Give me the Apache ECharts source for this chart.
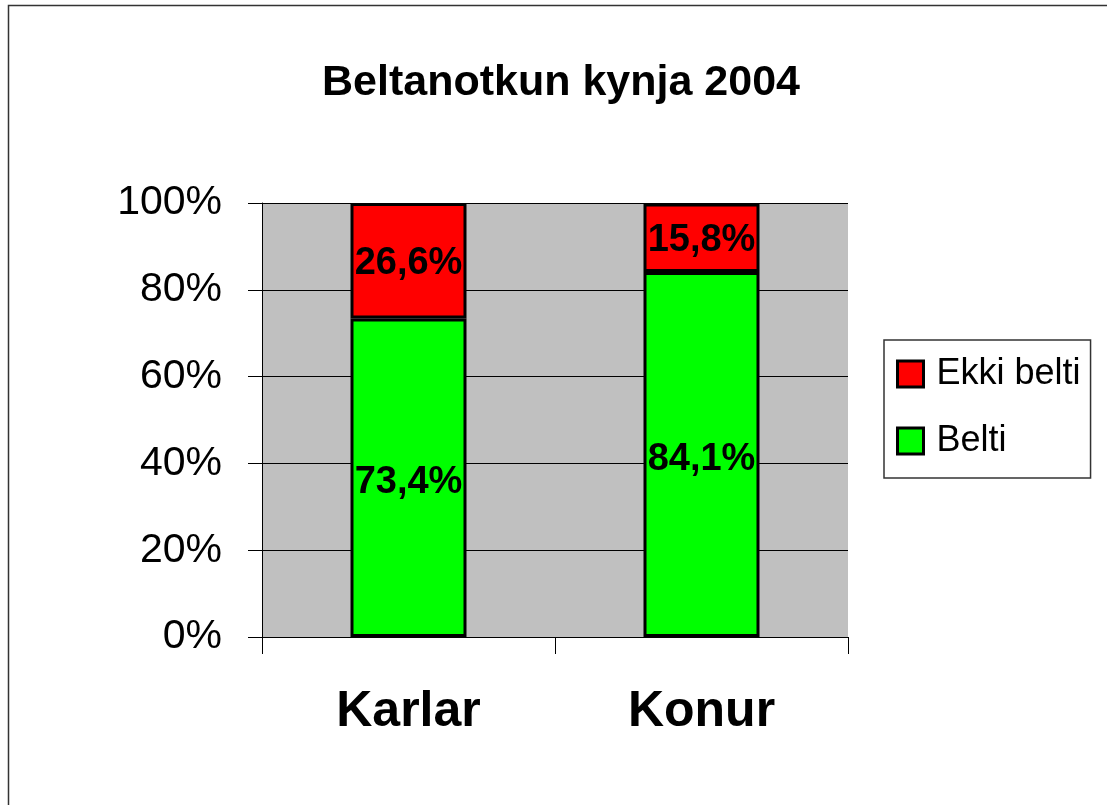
<!DOCTYPE html>
<html>
<head>
<meta charset="utf-8">
<script src="https://cdn.jsdelivr.net/npm/echarts@6/dist/echarts.min.js"></script>
<style>
  html, body { margin: 0; padding: 0; background: #fff; }
  #chart { width: 1107px; height: 805px; }
</style>
</head>
<body>
<div id="chart"></div>
<script>
// data
const categories = ['Karlar', 'Konur'];
const belti = [73.4, 84.1];
const ekkiBelti = [26.6, 15.8];
const legendOrder = ['Ekki belti', 'Belti'];

const font = 'Arial, "Liberation Sans", sans-serif';
const fmt = p => String(p.value.toFixed(1)).replace('.', ',') + '%';

const chart = echarts.init(document.getElementById('chart'));
chart.setOption({
  backgroundColor: '#fff',
  animation: false,
  textStyle: { fontFamily: font, color: '#000' },
  graphic: [{
    // chart area frame, only top and left edges show
    type: 'rect',
    shape: { x: 8.5, y: 5.5, width: 1300, height: 1000 },
    style: { fill: 'none', stroke: '#333', lineWidth: 1.5 },
    silent: true
  }],
  title: {
    text: 'Beltanotkun kynja 2004',
    left: 317,
    top: 57,
    textStyle: { fontSize: 43, fontWeight: 'bold', color: '#000', fontFamily: font }
  },
  legend: {
    data: legendOrder,
    orient: 'vertical',
    left: 884,
    top: 340,
    padding: [16, 10, 19, 12],
    itemWidth: 26,
    itemHeight: 26,
    itemGap: 31,
    icon: 'rect',
    itemStyle: { borderColor: '#000', borderWidth: 3 },
    borderColor: '#333',
    borderWidth: 1.5,
    backgroundColor: '#fff',
    textStyle: { fontSize: 36, lineHeight: 36, color: '#000', fontFamily: font, padding: [0, 0, 0, 8] }
  },
  grid: {
    left: 262,
    right: 259,
    top: 203,
    bottom: 168,
    show: true,
    backgroundColor: '#C0C0C0',
    borderWidth: 0
  },
  xAxis: {
    type: 'category',
    data: categories,
    axisLine: { lineStyle: { color: '#000', width: 1 } },
    axisTick: { show: true, length: 17, lineStyle: { color: '#000' } },
    axisLabel: { fontSize: 50, fontWeight: 'bold', color: '#000', margin: 50, fontFamily: font }
  },
  yAxis: {
    type: 'value',
    min: 0,
    max: 100,
    interval: 20,
    axisLine: { show: true, lineStyle: { color: '#000', width: 1 } },
    axisTick: { show: true, length: 14, lineStyle: { color: '#000' } },
    axisLabel: { formatter: '{value}%', fontSize: 41, color: '#000', margin: 40, fontFamily: font },
    splitLine: { show: true, lineStyle: { color: '#000', width: 1 } }
  },
  series: [{
    name: 'Belti',
    type: 'bar',
    stack: 'total',
    barWidth: 116,
    data: belti,
    itemStyle: { color: '#00FF00', borderColor: '#000', borderWidth: 3 },
    label: { show: true, position: 'inside', offset: [0, 5], formatter: fmt, fontSize: 38, fontWeight: 'bold', color: '#000', fontFamily: font }
  }, {
    name: 'Ekki belti',
    type: 'bar',
    stack: 'total',
    barWidth: 116,
    data: ekkiBelti,
    itemStyle: { color: '#FF0000', borderColor: '#000', borderWidth: 3 },
    label: { show: true, position: 'inside', offset: [0, 3], formatter: fmt, fontSize: 38, fontWeight: 'bold', color: '#000', fontFamily: font }
  }]
});
</script>
</body>
</html>
